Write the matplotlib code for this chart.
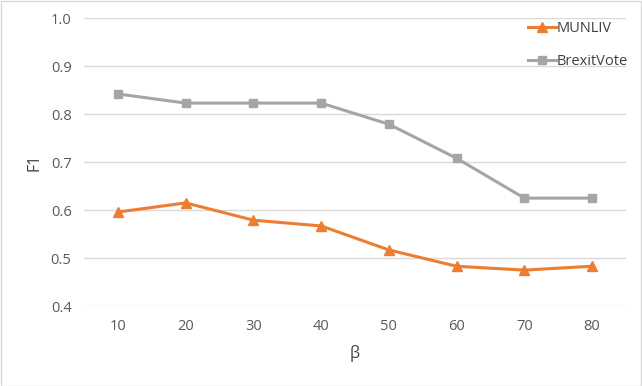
import numpy as np
import matplotlib.pyplot as plt

# data
betas = [10, 20, 30, 40, 50, 60, 70, 80]
munliv = [0.596, 0.615, 0.579, 0.567, 0.517, 0.483, 0.475, 0.483]
brexit = [0.842, 0.823, 0.823, 0.823, 0.779, 0.708, 0.625, 0.625]
yticks = [0.4, 0.5, 0.6, 0.7, 0.8, 0.9, 1.0]

plt.rcParams['font.family'] = ['Open Sans', 'DejaVu Sans']

fig = plt.figure(figsize=(6.42, 3.86), dpi=100)
axe = fig.add_axes([0.131, 0.207, 0.844, 0.746])

x = np.arange(len(betas))
axe.plot(x, munliv, '-^', color='#ED7D31', lw=2.2, ms=7, label='MUNLIV')
axe.plot(x, brexit, '-s', color='#A5A5A5', lw=2.2, ms=6, label='BrexitVote')

axe.set_xlim(-0.5, len(betas) - 0.5)
axe.set_ylim(0.4, 1.0)
axe.set_xticks(x)
axe.set_xticklabels([str(b) for b in betas])
axe.set_yticks(yticks)
axe.set_yticklabels(['%.1f' % t for t in yticks])
axe.tick_params(length=0, labelsize=10.5, colors='#595959', pad=9)
axe.grid(axis='y', color='#D9D9D9', lw=1)
axe.set_axisbelow(True)
for s in axe.spines.values():
    s.set_visible(False)

axe.set_xlabel('β', fontsize=11.5, color='#404040', labelpad=8)
axe.set_ylabel('F1', fontsize=11.5, color='#404040', labelpad=6)

leg = axe.legend(loc='upper right', bbox_to_anchor=(1.015, 1.01), frameon=False,
                 fontsize=10.5, handlelength=1.9, labelspacing=1.25,
                 handletextpad=0.1, borderaxespad=0.0)
for t in leg.get_texts():
    t.set_color('#404040')

# thin border round the whole figure
fig.patches.append(plt.Rectangle((0.001, 0.001), 0.997, 0.997, transform=fig.transFigure,
                                 fill=False, edgecolor='#D9D9D9', lw=1))

plt.savefig('out.png', dpi=100)
